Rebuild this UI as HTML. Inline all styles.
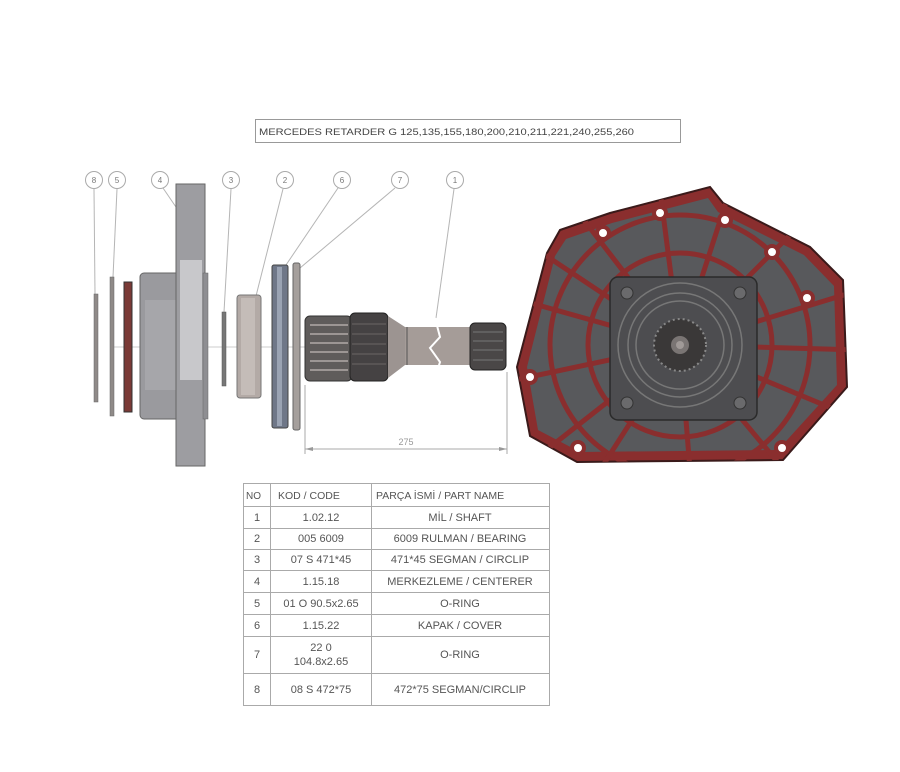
<!DOCTYPE html>
<html><head><meta charset="utf-8"><style>
html,body{margin:0;padding:0;background:#fff;}
svg{display:block}
</style></head><body>
<svg width="900" height="772" viewBox="0 0 900 772" xmlns="http://www.w3.org/2000/svg" font-family="Liberation Sans, sans-serif">
<rect width="900" height="772" fill="#fff"/>
<rect x="255.5" y="119.5" width="425" height="23" fill="#fff" stroke="#999"/>
<text x="259" y="135" font-size="9.5" fill="#444" textLength="375" lengthAdjust="spacingAndGlyphs">MERCEDES RETARDER G 125,135,155,180,200,210,211,221,240,255,260</text>

<g fill="#fff" stroke="#aaa" stroke-width="1">
<circle cx="94" cy="180" r="8.5"/><circle cx="117" cy="180" r="8.5"/><circle cx="160" cy="180" r="8.5"/><circle cx="231" cy="180" r="8.5"/>
<circle cx="285" cy="180" r="8.5"/><circle cx="342" cy="180" r="8.5"/><circle cx="400" cy="180" r="8.5"/><circle cx="455" cy="180" r="8.5"/>
</g>
<g font-size="8" fill="#777" text-anchor="middle">
<text x="94" y="183">8</text><text x="117" y="183">5</text><text x="160" y="183">4</text><text x="231" y="183">3</text>
<text x="285" y="183">2</text><text x="342" y="183">6</text><text x="400" y="183">7</text><text x="455" y="183">1</text>
</g>
<g stroke="#b5b5b5" stroke-width="1" fill="none">
<line x1="94" y1="189" x2="95" y2="294"/><line x1="117" y1="189" x2="113" y2="277"/>
<line x1="163" y1="188" x2="178" y2="210"/><line x1="231" y1="189" x2="224" y2="312"/>
<line x1="283" y1="189" x2="256" y2="296"/><line x1="338" y1="188" x2="286" y2="265"/>
<line x1="395" y1="188" x2="300" y2="268"/><line x1="454" y1="189" x2="436" y2="318"/>
<line x1="110" y1="347" x2="305" y2="347" stroke="#ccc"/>
</g>

<rect x="94" y="294" width="4" height="108" fill="#8f8a88" stroke="#666" stroke-width="0.5"/>
<rect x="110" y="277" width="4" height="139" fill="#8f8a88" stroke="#666" stroke-width="0.5"/>
<rect x="124" y="282" width="8" height="130" fill="#7a3a36" stroke="#333" stroke-width="1"/>
<rect x="140" y="273" width="40" height="146" rx="4" fill="#9a9a9e" stroke="#666"/>
<rect x="145" y="300" width="33" height="90" fill="#a6a6aa"/>
<rect x="176" y="184" width="29" height="282" fill="#9d9da1" stroke="#666"/>
<rect x="180" y="260" width="22" height="120" fill="#c8c8cb"/>
<rect x="203" y="273" width="5" height="146" fill="#8e8e92" stroke="#666" stroke-width="0.5"/>
<rect x="222" y="312" width="4" height="74" fill="#777" stroke="#555" stroke-width="0.5"/>
<rect x="237" y="295" width="24" height="103" rx="3" fill="#b3aaa6" stroke="#777"/>
<rect x="241" y="298" width="14" height="97" fill="#c4bcb8"/>
<rect x="272" y="265" width="16" height="163" rx="2" fill="#6f7788" stroke="#444"/>
<rect x="277" y="267" width="5" height="159" fill="#9aa3b3"/>
<rect x="293" y="263" width="7" height="167" rx="2" fill="#a59f9c" stroke="#666"/>
<rect x="305" y="316" width="47" height="65" rx="5" fill="#5f5c5b" stroke="#333"/>
<g stroke="#b0aaa8" stroke-width="1.5"><line x1="310" y1="325" x2="348" y2="325"/><line x1="310" y1="334" x2="348" y2="334"/><line x1="310" y1="343" x2="348" y2="343"/><line x1="310" y1="352" x2="348" y2="352"/><line x1="310" y1="361" x2="348" y2="361"/><line x1="310" y1="370" x2="348" y2="370"/></g>
<rect x="350" y="313" width="38" height="68" rx="5" fill="#454243" stroke="#222"/>
<g stroke="#6a6665" stroke-width="1"><line x1="352" y1="324" x2="386" y2="324"/><line x1="352" y1="334" x2="386" y2="334"/><line x1="352" y1="344" x2="386" y2="344"/><line x1="352" y1="354" x2="386" y2="354"/><line x1="352" y1="364" x2="386" y2="364"/></g>
<polygon points="388,316 405,327 405,365 388,378" fill="#9c9491"/>
<rect x="405" y="327" width="66" height="38" fill="#a59c98"/>
<line x1="407" y1="327" x2="407" y2="365" stroke="#555"/>
<polyline points="435,318 440,337 430,348 440,362 434,381" fill="none" stroke="#fff" stroke-width="2"/>
<rect x="470" y="323" width="36" height="47" rx="5" fill="#4a4747" stroke="#222"/>
<g stroke="#777" stroke-width="1"><line x1="473" y1="332" x2="503" y2="332"/><line x1="473" y1="341" x2="503" y2="341"/><line x1="473" y1="350" x2="503" y2="350"/><line x1="473" y1="360" x2="503" y2="360"/></g>
<g stroke="#aaa" stroke-width="1">
<line x1="305" y1="385" x2="305" y2="454"/><line x1="507" y1="372" x2="507" y2="454"/>
<line x1="305" y1="449" x2="507" y2="449"/>
</g>
<polygon points="305,449 313,447 313,451" fill="#999"/><polygon points="507,449 499,447 499,451" fill="#999"/>
<text x="406" y="445" font-size="9" fill="#999" text-anchor="middle">275</text>

<defs><clipPath id="hc"><polygon points="517,367 547,253 560,230 610,213 710,187 723,203 810,247 843,280 847,387 783,460 577,462 530,436"/></clipPath></defs>
<polygon points="517,367 547,253 560,230 610,213 710,187 723,203 810,247 843,280 847,387 783,460 577,462 530,436" fill="#8a2e2e" stroke="#3a1a1a" stroke-width="2"/>
<g clip-path="url(#hc)">
<polygon points="527,367 555,256 566,239 612,223 708,198 718,212 804,255 834,286 837,385 778,450 580,452 538,430" fill="#58595c"/>
<g fill="none" stroke="#8a2e2e" stroke-width="5">
<circle cx="680" cy="345" r="92"/><circle cx="680" cy="345" r="130"/>
<line x1="680" y1="345" x2="520" y2="300"/><line x1="680" y1="345" x2="515" y2="380"/><line x1="680" y1="345" x2="540" y2="455"/>
<line x1="680" y1="345" x2="600" y2="470"/><line x1="680" y1="345" x2="690" y2="470"/><line x1="680" y1="345" x2="780" y2="465"/>
<line x1="680" y1="345" x2="860" y2="420"/><line x1="680" y1="345" x2="860" y2="350"/><line x1="680" y1="345" x2="860" y2="290"/>
<line x1="680" y1="345" x2="800" y2="225"/><line x1="680" y1="345" x2="730" y2="190"/><line x1="680" y1="345" x2="660" y2="190"/>
<line x1="680" y1="345" x2="580" y2="215"/><line x1="680" y1="345" x2="530" y2="245"/>
</g>
</g>
<g fill="#fff" stroke="#8a2e2e" stroke-width="4">
<circle cx="603" cy="233" r="6"/><circle cx="660" cy="213" r="6"/><circle cx="725" cy="220" r="6"/><circle cx="772" cy="252" r="6"/>
<circle cx="807" cy="298" r="6"/><circle cx="530" cy="377" r="6"/><circle cx="578" cy="448" r="6"/><circle cx="782" cy="448" r="6"/>
</g>
<rect x="610" y="277" width="147" height="143" rx="8" fill="#4d4d50" stroke="#2a2a2a" stroke-width="1.5"/>
<g fill="#6a6a6c" stroke="#333"><circle cx="627" cy="293" r="6"/><circle cx="740" cy="293" r="6"/><circle cx="627" cy="403" r="6"/><circle cx="740" cy="403" r="6"/></g>
<g fill="none" stroke="#777" stroke-width="1.5"><circle cx="680" cy="345" r="62"/><circle cx="680" cy="345" r="52"/><circle cx="680" cy="345" r="44"/></g>
<circle cx="680" cy="345" r="26" fill="#3a3838" stroke="#888" stroke-dasharray="2 3" stroke-width="2"/>
<circle cx="680" cy="345" r="9" fill="#7a7574"/>
<circle cx="680" cy="345" r="4" fill="#a09a98"/>

<g stroke="#aaa" stroke-width="1" fill="none">
<rect x="243.5" y="483.5" width="306" height="222"/>
<line x1="270.5" y1="483" x2="270.5" y2="706"/><line x1="371.5" y1="483" x2="371.5" y2="706"/>
<line x1="243" y1="506.5" x2="550" y2="506.5"/><line x1="243" y1="528.5" x2="550" y2="528.5"/>
<line x1="243" y1="549.5" x2="550" y2="549.5"/><line x1="243" y1="570.5" x2="550" y2="570.5"/>
<line x1="243" y1="592.5" x2="550" y2="592.5"/><line x1="243" y1="614.5" x2="550" y2="614.5"/>
<line x1="243" y1="636.5" x2="550" y2="636.5"/><line x1="243" y1="673.5" x2="550" y2="673.5"/>
</g>
<g font-size="10.5" fill="#555">
<text x="246" y="499" font-size="10">NO</text>
<text x="278" y="499">KOD / CODE</text>
<text x="376" y="499">PARÇA İSMİ / PART NAME</text>
</g>
<g font-size="11" fill="#555" text-anchor="middle">
<text x="257" y="521">1</text><text x="321" y="521">1.02.12</text><text x="460" y="521">MİL / SHAFT</text>
<text x="257" y="542">2</text><text x="321" y="542">005 6009</text><text x="460" y="542">6009 RULMAN / BEARING</text>
<text x="257" y="563">3</text><text x="321" y="563">07 S 471*45</text><text x="460" y="563">471*45 SEGMAN / CIRCLIP</text>
<text x="257" y="585">4</text><text x="321" y="585">1.15.18</text><text x="460" y="585">MERKEZLEME / CENTERER</text>
<text x="257" y="607">5</text><text x="321" y="607">01 O 90.5x2.65</text><text x="460" y="607">O-RING</text>
<text x="257" y="629">6</text><text x="321" y="629">1.15.22</text><text x="460" y="629">KAPAK / COVER</text>
<text x="257" y="658">7</text><text x="321" y="651">22 0</text><text x="321" y="665">104.8x2.65</text><text x="460" y="658">O-RING</text>
<text x="257" y="693">8</text><text x="321" y="693">08 S 472*75</text><text x="460" y="693">472*75 SEGMAN/CIRCLIP</text>
</g>
</svg>
</body></html>
